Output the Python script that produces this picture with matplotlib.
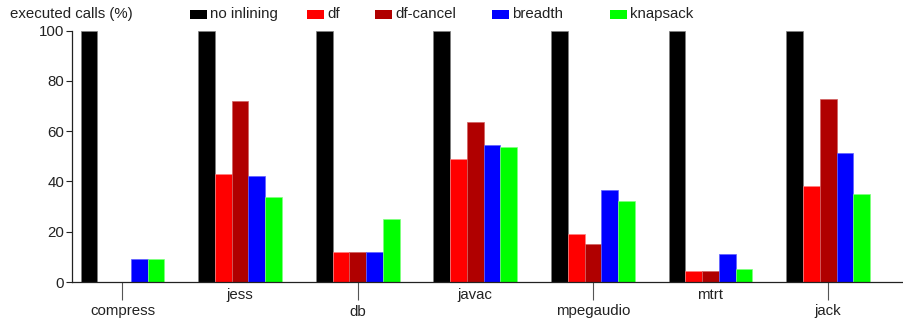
import matplotlib
matplotlib.use("Agg")
import matplotlib.pyplot as plt
from matplotlib.patches import Rectangle
import numpy as np

plt.rcParams['font.family'] = ['Liberation Sans', 'DejaVu Sans']

categories = ["compress", "jess", "db", "javac", "mpegaudio", "mtrt", "jack"]
series_names = ["no inlining", "df", "df-cancel", "breadth", "knapsack"]
no_inlining = [100, 100, 100, 100, 100, 100, 100]
df = [0, 43.1, 11.8, 48.8, 19.2, 4.5, 38.2]
df_cancel = [0, 72.1, 11.8, 63.8, 15.0, 4.5, 73.0]
breadth = [9.1, 42.2, 11.8, 54.6, 36.8, 11.2, 51.2]
knapsack = [9.1, 33.7, 25.0, 53.8, 32.4, 5.2, 34.9]
yticks = [0, 20, 40, 60, 80, 100]

series = [no_inlining, df, df_cancel, breadth, knapsack]
colors = ["#000000", "#ff0000", "#b00000", "#0000ff", "#00ff00"]
edges = ["#808080", "#ff8080", "#d06060", "#6060ff", "#80ff80"]

FS = 10.8
W, H = 904, 324
fig = plt.figure(figsize=(W / 100, H / 100), dpi=100)
ax = fig.add_axes([72 / W, (H - 282) / H, (W - 72) / W, (282 - 30.7) / H])

x = np.arange(len(categories))
bw = 0.1425
for k, (vals, c, e) in enumerate(zip(series, colors, edges)):
    ax.bar(x + (k - 2) * bw, vals, width=bw, color=c, edgecolor=e, linewidth=0.5, label=series_names[k])

ax.set_xlim(-0.429, 6.645)
ax.set_ylim(0, 100)
ax.set_yticks(yticks)
ax.tick_params(axis='y', length=4, width=0.8, pad=1.5, labelsize=FS, colors='#222222')

low = [i for i in range(len(categories)) if i % 2 == 0]
high = [i for i in range(len(categories)) if i % 2 == 1]
ax.set_xticks(low)
ax.set_xticklabels([categories[i] for i in low])
ax.set_xticks(high, minor=True)
ax.set_xticklabels([categories[i] for i in high], minor=True)
ax.tick_params(axis='x', which='major', length=12.7, width=0.8, pad=3.5, labelsize=FS, colors='#222222')
ax.tick_params(axis='x', which='minor', length=0, pad=4.5, labelsize=FS, colors='#222222')
ax.tick_params(axis='x', which='major', color='#555555')

for s in ['top', 'right']:
    ax.spines[s].set_visible(False)
for s in ['left', 'bottom']:
    ax.spines[s].set_linewidth(0.9)
    ax.spines[s].set_color('#222222')

fig.text(10 / W, 1 - 14 / H, "executed calls (%)", fontsize=FS, va='center', ha='left', color='#222222')

leg_x = [190, 307, 375, 492, 610]
for name, c, lx in zip(series_names, colors, leg_x):
    fig.patches.append(Rectangle((lx / W, 1 - 19 / H), 17 / W, 9 / H, transform=fig.transFigure,
                                 facecolor=c, edgecolor='none'))
    fig.text((lx + 20) / W, 1 - 14 / H, name, fontsize=FS, va='center', ha='left', color='#222222')

fig.savefig("out.png", dpi=100)
